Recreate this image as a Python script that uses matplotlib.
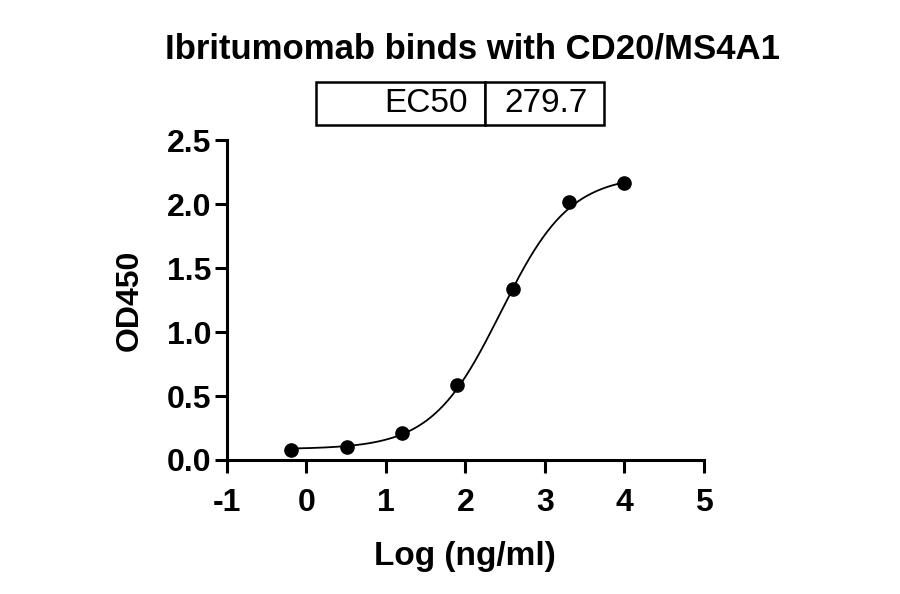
import numpy as np
import matplotlib
matplotlib.use("Agg")
from matplotlib import pyplot as plt

plt.rcParams['font.family'] = ['Liberation Sans', 'DejaVu Sans']
plt.rcParams['axes.unicode_minus'] = False

# data points (log ng/ml vs OD450)
log_conc = [-0.19, 0.51, 1.20, 1.90, 2.60, 3.30, 4.00]
od450 = [0.078, 0.105, 0.21, 0.59, 1.335, 2.02, 2.17]

# 4PL fit parameters
bottom = 0.085
top = 2.23
ec50 = 279.7
hill = 1.0

fig = plt.figure(figsize=(9, 5.94), dpi=100)
ax = fig.add_axes([0.252, 0.2256, 0.530, 0.538])

xs = np.linspace(min(log_conc), max(log_conc), 300)
ys = bottom + (top - bottom) / (1 + 10 ** ((np.log10(ec50) - xs) * hill))
ax.plot(xs, ys, color='black', lw=1.3)
ax.plot(log_conc, od450, 'o', color='black', ms=9.5)

ax.set_xlim(-1, 5)
ax.set_ylim(0, 2.5)
ax.set_xticks(range(-1, 6))
ax.set_yticks([0, 0.5, 1.0, 1.5, 2.0, 2.5])
ax.set_yticklabels(['0.0', '0.5', '1.0', '1.5', '2.0', '2.5'])
for s in ['top', 'right']:
    ax.spines[s].set_visible(False)
for s in ['left', 'bottom']:
    ax.spines[s].set_linewidth(2.2)
ax.tick_params(width=2.2, length=9, labelsize=23)
ax.tick_params(axis='y', pad=2)
ax.tick_params(axis='x', pad=11)
for lab in ax.get_xticklabels() + ax.get_yticklabels():
    lab.set_fontweight('bold')

ax.set_xlabel("Log (ng/ml)", fontsize=24, fontweight='bold', labelpad=17)
ax.set_ylabel("OD450", fontsize=23, fontweight='bold', labelpad=16)

fig.text(0.525, 0.918, "Ibritumomab binds with CD20/MS4A1", ha='center', va='center',
         fontsize=25, fontweight='bold')

# EC50 table
tab = ax.table(cellText=[["EC50", "279.7"]], cellLoc='right',
               bbox=[(316 - 227) / 477, (594 - 125 - 134) / 320, (604 - 316) / 477, 43 / 320])
tab.auto_set_font_size(False)
tab.set_fontsize(24)
cells = tab.get_celld()
cells[(0, 0)].set_width((485 - 316) / 477)
cells[(0, 1)].set_width((604 - 485) / 477)
cells[(0, 1)]._loc = 'left'
cells[(0, 0)].PAD = 0.1
cells[(0, 1)].PAD = 0.14
for c in cells.values():
    c.set_linewidth(1.8)

fig.savefig("out.png", dpi=100)
